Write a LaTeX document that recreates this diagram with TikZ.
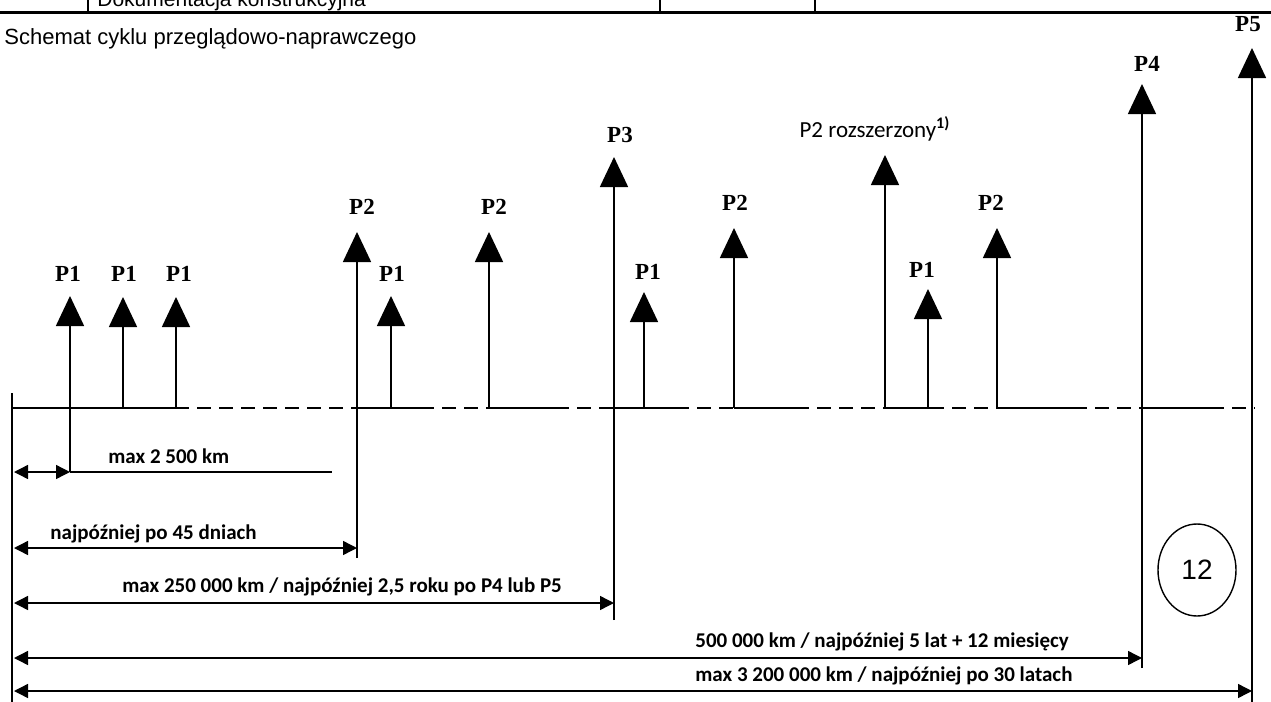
\documentclass[tikz,border=0pt]{standalone}
\usepackage{fontspec}
\setmainfont{Liberation Sans}
\newfontfamily\plabelfont{Liberation Serif}
\newfontfamily\dimfont{Carlito}
\usetikzlibrary{arrows.meta,shapes.geometric}
\begin{document}
\begin{tikzpicture}[x=0.5pt,y=-0.5pt,
  evarrow/.style={line width=0.8pt,-{Triangle[length=15pt,width=14pt]}},
  dimarrow/.style={line width=0.7pt,{Triangle[length=7pt,width=7pt]}-{Triangle[length=7pt,width=7pt]}},
  thinline/.style={line width=0.7pt},
  plab/.style={font=\plabelfont\bfseries\fontsize{11.5}{12}\selectfont,inner sep=0pt,anchor=base},
  dimlab/.style={font=\dimfont\bfseries\fontsize{10.5}{11}\selectfont,inner sep=0pt,anchor=base west},
  solidbase/.style={line width=0.75pt},
  dashbase/.style={line width=0.75pt,dash pattern=on 7pt off 4pt}]
\useasboundingbox (0,0) rectangle (1271,702);
\fill[white] (0,0) rectangle (1271,702);
% table remnant
\begin{scope}
  \clip (0,0) rectangle (1271,11);
  \node[font=\fontsize{10.5}{12}\selectfont,inner sep=0pt,anchor=base west] (doc) at (97,6) {Dokumentacja konstrukcyjna};
\end{scope}
\coordinate (tl) at (0,12); \coordinate (tr) at (1271,12);
\draw[line width=1.5pt] (tl) -- (tr);
\coordinate (v1a) at (88,0); \coordinate (v1b) at (88,12);
\coordinate (v2a) at (660,0); \coordinate (v2b) at (660,12);
\coordinate (v3a) at (815,0); \coordinate (v3b) at (815,12);
\draw[line width=0.8pt] (v1a) -- (v1b) (v2a) -- (v2b) (v3a) -- (v3b);
% title
\node[font=\fontsize{11}{13}\selectfont,inner sep=0pt,anchor=base west] (title) at (4,44) {Schemat cyklu przeglądowo-naprawczego};
% left boundary
\coordinate (lt) at (12,393); \coordinate (lb) at (12,702);
\draw[thinline] (lt) -- (lb);
% baseline
\foreach \a/\b in {12/175,357/420,489/555,613/675,734/795,886/930,997/1073,1141/1210}
  {\draw[solidbase] (\a,408) -- (\b,408);}
\foreach \a/\b in {175/357,420/489,555/613,675/734,795/886,930/997,1073/1141,1210/1255}
  {\draw[dashbase] (\a,408) -- (\b,408);}
% event arrows
\coordinate (b1) at (70,472);   \coordinate (t1) at (70,296);
\coordinate (b2) at (123,408);  \coordinate (t2) at (123,297);
\coordinate (b3) at (176,408);  \coordinate (t3) at (176,297);
\coordinate (b4) at (357,558);  \coordinate (t4) at (357,232);
\coordinate (b5) at (391,408);  \coordinate (t5) at (391,296);
\coordinate (b6) at (489,408);  \coordinate (t6) at (489,232);
\coordinate (b7) at (614,620);  \coordinate (t7) at (614,157);
\coordinate (b8) at (644,408);  \coordinate (t8) at (644,292);
\coordinate (b9) at (734,408);  \coordinate (t9) at (734,228);
\coordinate (b10) at (885,408); \coordinate (t10) at (885,155);
\coordinate (b11) at (928,408); \coordinate (t11) at (928,289);
\coordinate (b12) at (997,408); \coordinate (t12) at (997,228);
\coordinate (b13) at (1142,668); \coordinate (t13) at (1142,84);
\coordinate (b14) at (1252,702); \coordinate (t14) at (1252,48);
\foreach \i in {1,...,14} {\draw[evarrow] (b\i) -- (t\i);}
% labels
\node[plab] (l1) at (68,281) {P1};
\node[plab] (l2) at (124,281) {P1};
\node[plab] (l3) at (179,281) {P1};
\node[plab] (l4) at (362,214) {P2};
\node[plab] (l5) at (392,281) {P1};
\node[plab] (l6) at (494,214) {P2};
\node[plab] (l7) at (620,142) {P3};
\node[plab] (l8) at (648,279) {P1};
\node[plab] (l9) at (735,210) {P2};
\node[font=\dimfont\fontsize{11.5}{12}\selectfont,inner sep=0pt,anchor=base] (l10) at (875,137) {P2 rozszerzony\textsuperscript{\bfseries 1)}};
\node[plab] (l11) at (922,277) {P1};
\node[plab] (l12) at (991,210) {P2};
\node[plab] (l13) at (1147,71) {P4};
\node[plab] (l14) at (1248,31) {P5};
% dimension lines
\coordinate (d1l) at (14,472); \coordinate (d1r) at (70,472); \coordinate (d1e) at (332,472);
\draw[dimarrow] (d1l) -- (d1r);
\draw[thinline] (d1r) -- (d1e);
\node[dimlab] (m1) at (108,463) {max 2 500 km};
\coordinate (d2l) at (14,548); \coordinate (d2r) at (357,548);
\draw[dimarrow] (d2l) -- (d2r);
\node[dimlab] (m2) at (50,539) {najpóźniej po 45 dniach};
\coordinate (d3l) at (14,603); \coordinate (d3r) at (614,603);
\draw[dimarrow] (d3l) -- (d3r);
\node[dimlab] (m3) at (122,592) {max 250 000 km / najpóźniej 2,5 roku po P4 lub P5};
\coordinate (d4l) at (14,658); \coordinate (d4r) at (1142,658);
\draw[dimarrow] (d4l) -- (d4r);
\node[dimlab] (m4) at (695,647) {500 000 km / najpóźniej 5 lat + 12 miesięcy};
\coordinate (d5l) at (14,691); \coordinate (d5r) at (1252,691);
\draw[dimarrow] (d5l) -- (d5r);
\node[dimlab] (m5) at (695,681) {max 3 200 000 km / najpóźniej po 30 latach};
% circle
\node[draw,ellipse,line width=0.7pt,minimum width=39pt,minimum height=46pt,inner sep=0pt,font=\fontsize{14}{15}\selectfont] (c12) at (1197,570) {12};
\end{tikzpicture}
\end{document}
